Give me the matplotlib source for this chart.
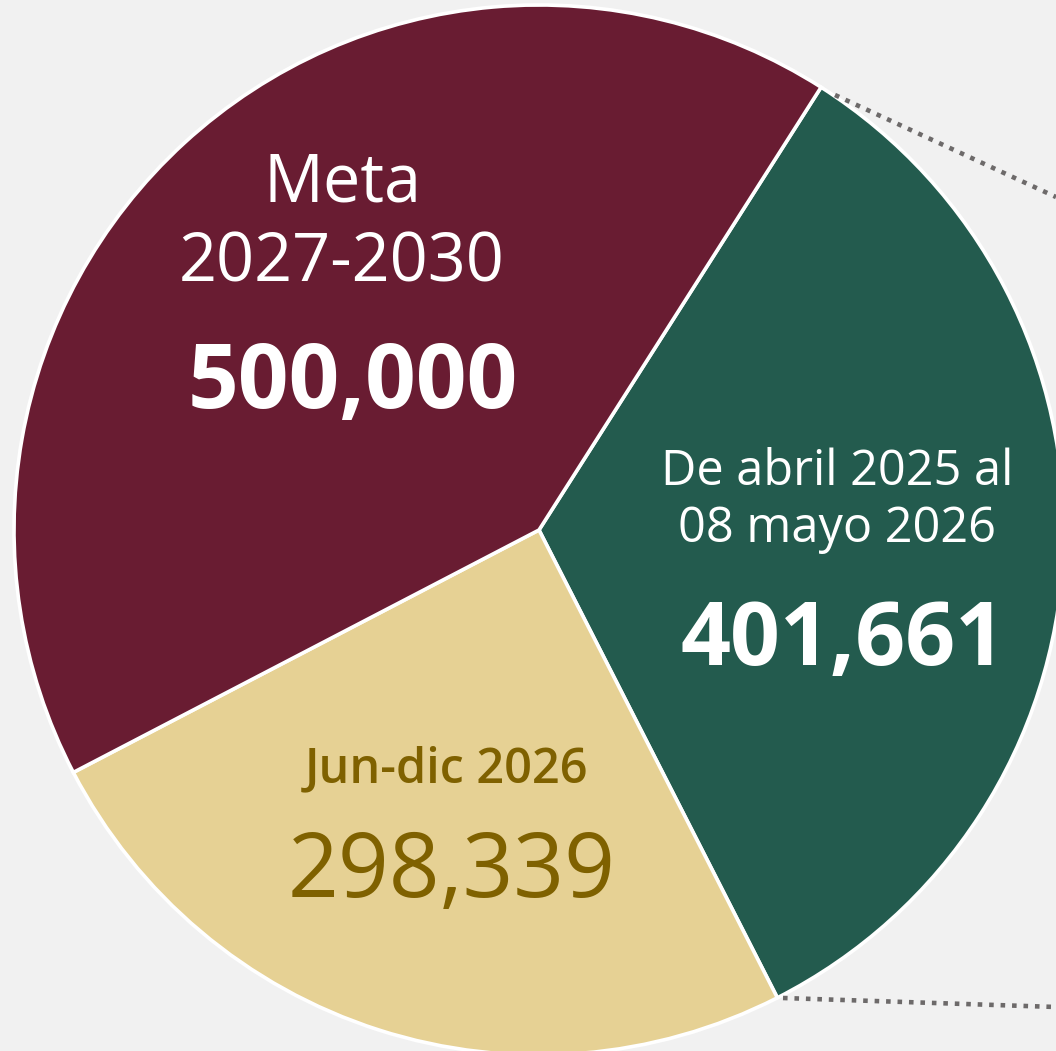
import matplotlib.pyplot as plt

# Data
periods = ["De abril 2025 al\n08 mayo 2026", "Jun-dic 2026", "Meta\n2027-2030"]
values = [401661, 298339, 500000]
colors = ["#235b4e", "#e6d194", "#691c32"]

W, H = 1056, 1051
fig = plt.figure(figsize=(W / 100, H / 100), dpi=100)
fig.patch.set_facecolor("#f1f1f1")
ax = fig.add_axes([0, 0, 1, 1])
ax.set_facecolor("#f1f1f1")

cx, cy, r = 539, H - 530, 525
wedges, _ = ax.pie(values, colors=colors, startangle=57.5, counterclock=False,
                   center=(cx, cy), radius=r,
                   wedgeprops=dict(edgecolor="white", linewidth=2.6))
ax.set_xlim(0, W)
ax.set_ylim(0, H)
ax.set_aspect("auto")
ax.axis("off")

# dotted connector lines leaving the green wedge
ax.plot([835, W], [H - 95, H - 197], color="#6d6a6a", lw=3.3, linestyle=(0, (1, 1.5)))
ax.plot([783, W], [H - 998, H - 1007], color="#6d6a6a", lw=3.3, linestyle=(0, (1, 1.5)))

font = "Open Sans"
# Meta 2027-2030
ax.text(342, H - 202, "Meta", color="white", fontsize=48, family=font, ha="center", va="baseline")
ax.text(342, H - 282, "2027-2030", color="white", fontsize=48, family=font, ha="center", va="baseline")
ax.text(353, H - 408, f"{values[2]:,}", color="white", fontsize=64, family=font,
        fontweight="bold", ha="center", va="baseline")

# Abril 2025 - mayo 2026
ax.text(837, H - 485, "De abril 2025 al", color="white", fontsize=35, family=font, ha="center", va="baseline")
ax.text(837, H - 542, "08 mayo 2026", color="white", fontsize=35, family=font, ha="center", va="baseline")
ax.text(843, H - 665, f"{values[0]:,}", color="white", fontsize=63, family=font,
        fontweight="bold", ha="center", va="baseline")

# Jun-dic 2026
ax.text(447, H - 782, "Jun-dic 2026", color="#7f6100", fontsize=35, family=font,
        fontweight="semibold", ha="center", va="baseline")
ax.text(452, H - 897, f"{values[1]:,}", color="#7f6100", fontsize=64, family=font,
        ha="center", va="baseline")

fig.savefig("out.png", dpi=100, facecolor=fig.get_facecolor())
